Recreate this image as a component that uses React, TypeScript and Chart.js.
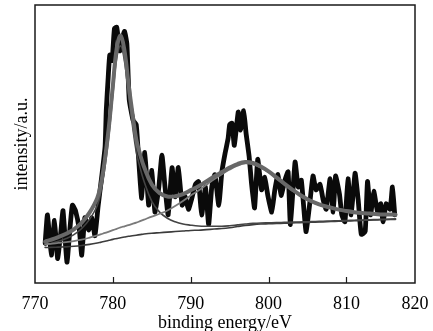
import React, { useEffect, useRef } from 'react';
import { Chart, registerables } from 'chart.js';

Chart.register(...registerables);

// axis
const X_MIN = 770;
const X_MAX = 818.8;
const tickValues = [770, 780, 790, 800, 810, 818.8];
const tickLabels = ['770', '780', '790', '800', '810', '820'];
const innerTicks = [780, 790, 800, 810];
const xTitle = 'binding energy/eV';
const yTitle = 'intensity/a.u.';

// fitted curves (binding energy / eV)
const fitX = [771.3, 772, 773, 774, 775, 776, 777, 778, 778.5, 779, 779.5, 780, 780.5, 781, 781.5, 782, 782.5, 783, 783.5, 784, 785, 786, 787, 788, 789, 790, 791, 792, 793, 794, 795, 796, 797, 798, 799, 800, 801, 802, 803, 804, 805, 806, 807, 808, 809, 810, 811, 812, 813, 814, 815, 816.3];
const envelope = [14.9, 15.5, 16.5, 17.7, 19.3, 21.7, 25.3, 30.6, 36.1, 45.0, 56.5, 71.0, 84.5, 89.0, 83.4, 71.8, 61.25, 51.7, 46.25, 41.8, 35.4, 32.3, 31.1, 31.2, 32.0, 33.4, 34.8, 36.5, 38.3, 39.9, 41.5, 42.8, 43.5, 43.15, 41.9, 40.15, 38.0, 35.8, 33.7, 31.76, 30.14, 28.82, 27.81, 27.1, 26.39, 25.88, 25.47, 25.17, 24.96, 24.76, 24.65, 24.55];
const peak1 = [13.7, 14.2, 15.0, 16.0, 17.4, 19.6, 22.9, 27.9, 33.2, 42.0, 53.4, 67.7, 81.0, 85.3, 79.6, 67.8, 57.0, 47.2, 41.4, 36.6, 29.4, 25.5, 23.3, 22.0, 21.2, 20.8, 20.5, 20.4, 20.4, 20.4, 20.6, 20.9, 21.2, 21.45, 21.6, 21.65, 21.7, 21.8, 21.9, 21.96, 22.04, 22.12, 22.21, 22.3, 22.39, 22.48, 22.57, 22.67, 22.76, 22.86, 22.95, 23.05];
const peak2 = [14.0, 14.1, 14.4, 14.7, 15.1, 15.6, 16.3, 17.1, 17.55, 18.0, 18.5, 19.0, 19.5, 20.0, 20.4, 20.8, 21.25, 21.7, 22.25, 22.8, 23.9, 24.9, 26.1, 27.7, 29.5, 31.5, 33.3, 35.3, 37.3, 39.1, 40.8, 42.2, 43.0, 42.7, 41.5, 39.8, 37.7, 35.5, 33.4, 31.5, 29.9, 28.6, 27.6, 26.9, 26.2, 25.7, 25.3, 25.0, 24.8, 24.6, 24.5, 24.4];
const background = [12.8, 12.8, 12.9, 13.0, 13.2, 13.5, 13.9, 14.4, 14.7, 15.0, 15.35, 15.7, 16.0, 16.3, 16.55, 16.8, 17.0, 17.2, 17.4, 17.6, 17.9, 18.1, 18.3, 18.5, 18.7, 18.9, 19.0, 19.2, 19.4, 19.6, 19.9, 20.3, 20.7, 21.0, 21.2, 21.3, 21.4, 21.5, 21.6, 21.7, 21.8, 21.9, 22.0, 22.1, 22.2, 22.3, 22.4, 22.5, 22.6, 22.7, 22.8, 22.9];

// measured spectrum
const rawX = [771.3, 771.6, 772.1, 772.5, 772.9, 773.3, 773.6, 774.1, 774.5, 774.8, 775.2, 775.7, 776.0, 776.4, 776.9, 777.3, 777.7, 778.1, 778.6, 779.0, 779.15, 779.4, 779.6, 779.9, 780.2, 780.5, 780.9, 781.2, 781.5, 781.8, 782.1, 782.6, 783.0, 783.3, 783.7, 784.1, 784.6, 785.0, 785.4, 785.9, 786.3, 786.7, 787.1, 787.6, 788.0, 788.4, 788.9, 789.3, 789.7, 790.1, 790.6, 791.0, 791.4, 791.9, 792.3, 792.7, 793.1, 793.6, 794.0, 794.4, 794.8, 795.0, 795.3, 795.6, 796.1, 796.4, 796.8, 797.1, 797.5, 797.8, 798.2, 798.6, 799.1, 799.5, 799.9, 800.4, 800.8, 801.2, 801.6, 802.1, 802.5, 802.8, 803.4, 803.8, 804.2, 804.8, 805.3, 805.7, 806.1, 806.6, 807.0, 807.4, 807.9, 808.3, 808.6, 809.1, 809.4, 809.8, 810.2, 810.6, 811.1, 811.5, 811.9, 812.4, 812.7, 813.1, 813.5, 814.0, 814.4, 814.7, 815.1, 815.6, 815.9, 816.2];
const rawY = [14.3, 24.5, 10, 22.5, 8.8, 18, 26, 7.5, 20, 28, 26, 19, 10, 23.5, 19, 23.5, 17, 27.5, 39, 49, 62, 74, 82, 80, 91.5, 92, 83.5, 88, 90.5, 86, 66, 58.5, 57, 45, 30.5, 47, 28, 40.5, 25.5, 34.5, 46, 34.5, 24.5, 41.5, 31, 41.5, 28, 31, 26.5, 30, 35.5, 36.5, 24.5, 34.5, 21, 34.5, 39, 28, 40, 46.5, 52, 57, 57.5, 49.5, 61.5, 55, 62, 54, 45.5, 36, 27, 44.5, 33.5, 38, 31.5, 25.5, 33.5, 39, 31.5, 37, 40, 21, 43.5, 34.5, 37, 18.5, 29, 38.5, 33.5, 35.5, 30, 26.5, 37.5, 25.5, 38.5, 32, 24.5, 22, 37.5, 24.5, 39.5, 30, 17.5, 18.5, 36.5, 24.5, 33, 25.5, 28.5, 22, 28.5, 26.5, 34.5, 24.5];

const pts = (xs: number[], ys: number[]) => xs.map((x, i) => ({ x, y: ys[i] }));

const FONT = '"Liberation Serif", "Times New Roman", "DejaVu Serif", serif';

const framePlugin = {
  id: 'frame',
  afterDraw(chart: any) {
    const { ctx, chartArea: a, scales } = chart;
    ctx.save();
    ctx.strokeStyle = '#1a1a1a';
    ctx.lineWidth = 1.5;
    ctx.strokeRect(a.left, a.top, a.right - a.left, a.bottom - a.top);
    ctx.beginPath();
    innerTicks.forEach((v) => {
      const px = Math.round(scales.x.getPixelForValue(v)) + 0.5;
      ctx.moveTo(px, a.bottom);
      ctx.lineTo(px, a.bottom - 6);
    });
    ctx.lineWidth = 1.2;
    ctx.stroke();
    ctx.restore();
  },
};

export default function App() {
  const ref = useRef<HTMLCanvasElement | null>(null);
  useEffect(() => {
    if (!ref.current) return;
    const line = (data: any, color: string, width: number, order: number, tension: number) => ({
      data,
      borderColor: color,
      borderWidth: width,
      pointRadius: 0,
      tension,
      fill: false,
      order,
      borderJoinStyle: 'round',
      borderCapStyle: 'round',
    });
    const chart = new Chart(ref.current, {
      type: 'line',
      data: {
        datasets: [
          line(pts(fitX, envelope), '#686868', 4, 1, 0.4),
          line(pts(fitX, peak2), '#7a7a7a', 1.8, 2, 0.4),
          line(pts(fitX, peak1), '#444444', 1.6, 3, 0.4),
          line(pts(fitX, background), '#3c3c3c', 1.6, 4, 0.4),
          line(pts(rawX, rawY), '#0a0a0a', 4.8, 10, 0.15),
        ] as any,
      },
      options: {
        animation: false,
        responsive: false,
        maintainAspectRatio: false,
        devicePixelRatio: 1,
        layout: { padding: { left: 0, right: 18, top: 5, bottom: 0 } },
        plugins: { legend: { display: false }, tooltip: { enabled: false } },
        scales: {
          x: {
            type: 'linear',
            min: X_MIN,
            max: X_MAX,
            grid: { display: false },
            border: { display: false },
            afterBuildTicks: (s: any) => {
              s.ticks = tickValues.map((v) => ({ value: v }));
            },
            afterFit: (s: any) => {
              s.height = 48;
            },
            ticks: {
              color: '#000',
              padding: 2,
              maxRotation: 0,
              autoSkip: false,
              font: { family: FONT, size: 18 },
              callback: (_v: any, i: number) => tickLabels[i],
            },
            title: {
              display: true,
              text: xTitle,
              color: '#000',
              font: { family: FONT, size: 18, lineHeight: 1 },
              padding: { top: 0, bottom: -1 },
            },
          },
          y: {
            type: 'linear',
            min: 0,
            max: 100,
            grid: { display: false },
            border: { display: false },
            ticks: { display: false },
            afterFit: (s: any) => {
              s.width = 35;
            },
            title: {
              display: true,
              text: yTitle,
              color: '#000',
              font: { family: FONT, size: 18, lineHeight: 1 },
              padding: { top: 13, bottom: 0 },
            },
          },
        },
      },
      plugins: [framePlugin],
    } as any);
    return () => chart.destroy();
  }, []);
  return (
    <div style={{ position: 'fixed', left: 0, top: 0, width: 433, height: 331, background: '#fff', overflow: 'hidden' }}>
      <canvas ref={ref} width={433} height={331} style={{ width: 433, height: 331, display: 'block' }} />
    </div>
  );
}
